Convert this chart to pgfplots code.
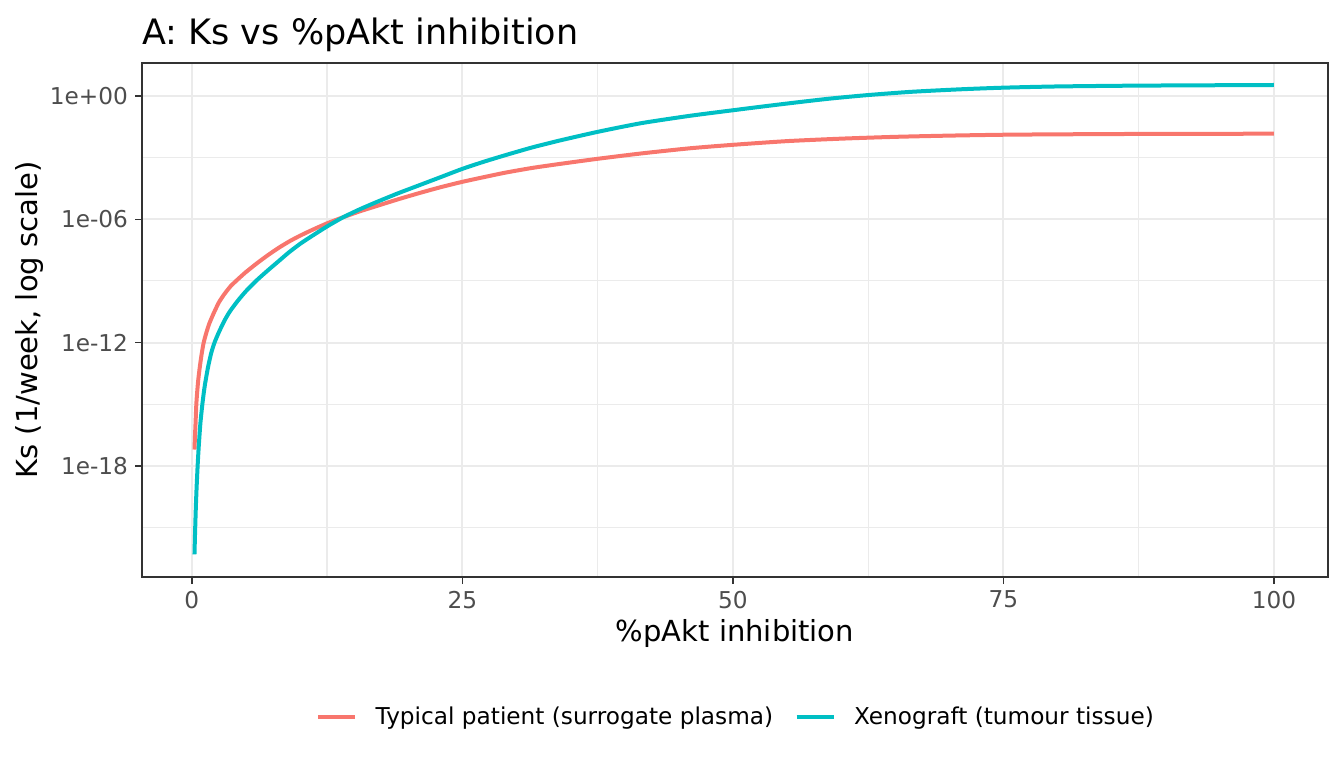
\documentclass[border=0pt]{standalone}
\usepackage{fontspec}
\setmainfont{DejaVu Sans}
\usepackage{pgfplots}
\pgfplotsset{compat=1.18}
\usepackage{pgfplotstable}
\definecolor{cRed}{HTML}{F8766D}
\definecolor{cCyan}{HTML}{00BFC4}
\definecolor{gridc}{HTML}{EBEBEB}
\definecolor{tickc}{HTML}{4D4D4D}
\definecolor{borderc}{HTML}{333333}

\pgfplotstableread{
x y
0.25 6.31e-18
0.3 3.16e-17
0.35 1.26e-16
0.42 1.00e-15
0.5 3.98e-15
0.6 1.58e-14
0.75 7.08e-14
0.9 2.51e-13
1.08 8.91e-13
1.3 2.51e-12
1.6 7.94e-12
2.0 2.51e-11
2.5 8.91e-11
3.0 2.24e-10
3.6 5.62e-10
4.3 1.26e-09
5.0 2.69e-09
6.0 7.08e-09
7.0 1.74e-08
8.0 3.98e-08
9.0 8.32e-08
10.0 1.58e-07
11.0 2.82e-07
12.5 6.31e-07
14.0 1.26e-06
15.5 2.40e-06
17.0 4.27e-06
19.0 9.12e-06
21.0 1.86e-05
23.0 3.63e-05
25.0 6.61e-05
27.0 1.12e-04
29.0 1.86e-04
31.5 3.16e-04
34.0 4.90e-04
37.5 8.71e-04
41.5 1.58e-03
46.0 2.82e-03
50.0 4.17e-03
55.0 6.31e-03
60.0 8.32e-03
65.0 1.02e-02
70.0 1.17e-02
75.0 1.29e-02
80.0 1.35e-02
87.5 1.41e-02
100.0 1.45e-02
}\redtab

\pgfplotstableread{
x y
0.25 5.01e-23
0.3 5.01e-22
0.37 7.94e-21
0.45 1.00e-19
0.55 1.26e-18
0.65 1.00e-17
0.8 1.26e-16
1.0 1.26e-15
1.2 7.94e-15
1.5 6.31e-14
1.8 3.16e-13
2.1 1.00e-12
2.5 3.16e-12
3.0 1.12e-11
3.5 3.16e-11
4.2 1.00e-10
5.0 3.16e-10
6.0 1.07e-09
7.0 3.16e-09
8.0 8.91e-09
9.0 2.51e-08
10.0 6.31e-08
11.0 1.41e-07
12.5 4.47e-07
14.0 1.26e-06
15.5 3.02e-06
17.0 6.61e-06
19.0 1.78e-05
21.0 4.47e-05
23.0 1.12e-04
25.0 2.82e-04
27.0 6.31e-04
29.0 1.32e-03
31.5 3.16e-03
34.0 6.76e-03
37.5 1.78e-02
41.5 4.68e-02
46.0 1.07e-01
50.0 2.00e-01
53.0 3.16e-01
56.0 4.90e-01
59.0 7.41e-01
62.5 1.10
66.5 1.58
71.0 2.09
75.0 2.51
80.0 2.88
87.5 3.16
100.0 3.39
}\cyantab

\begin{document}
\begin{tikzpicture}
\path[use as bounding box] (0,0) rectangle (672pt,384pt);
\begin{axis}[
  at={(71pt,95.5pt)}, anchor=south west,
  scale only axis, width=593pt, height=257pt,
  xmin=-4.6, xmax=105,
  ymode=log, ymin=3.98e-24, ymax=39.8,
  xtick={0,25,50,75,100}, xticklabels={0,25,50,75,100},
  minor xtick={12.5,37.5,62.5,87.5},
  ytick={1e-18,1e-12,1e-6,1}, yticklabels={1e-18,1e-12,1e-06,1e+00},
  minor ytick={1e-21,1e-15,1e-9,1e-3},
  grid=both,
  major grid style={gridc, line width=1.1pt},
  minor grid style={gridc, line width=0.55pt},
  tick align=outside, tick pos=left,
  major tick length=3.5pt, minor tick length=0pt,
  tick style={borderc, line width=0.75pt},
  axis line style={borderc, line width=0.75pt},
  ticklabel style={font=\fontsize{11.6}{13}\selectfont, text=tickc},
  legend style={at={(axis description cs:0.5,-0.2724)}, anchor=center,
    draw=none, fill=none, legend columns=2,
    font=\fontsize{11.6}{13}\selectfont,
    nodes={inner sep=0pt},
    /tikz/every odd column/.append style={column sep=9.25pt},
    /tikz/every even column/.append style={column sep=10.75pt}},
  legend image code/.code={\draw[#1, line width=2pt] (0pt,0pt) -- (18.5pt,0pt);},
]
\addplot[cRed, line width=2pt, smooth, tension=0.4] table[x=x,y=y]{\redtab};
\addlegendentry{Typical patient (surrogate plasma)}
\addplot[cCyan, line width=2pt, smooth, tension=0.4] table[x=x,y=y]{\cyantab};
\addlegendentry{Xenograft (tumour tissue)}
\end{axis}
\node[anchor=base west, inner sep=0pt, font=\fontsize{17.5}{21}\selectfont] at (71pt,362pt) {A: Ks vs \%pAkt inhibition};
\node[anchor=base, inner sep=0pt, font=\fontsize{14.5}{17}\selectfont] at (367.5pt,63.5pt) {\%pAkt inhibition};
\node[rotate=90, inner sep=0pt, font=\fontsize{14.5}{17}\selectfont] at (15pt,224pt) {Ks (1/week, log scale)};
\end{tikzpicture}
\end{document}
